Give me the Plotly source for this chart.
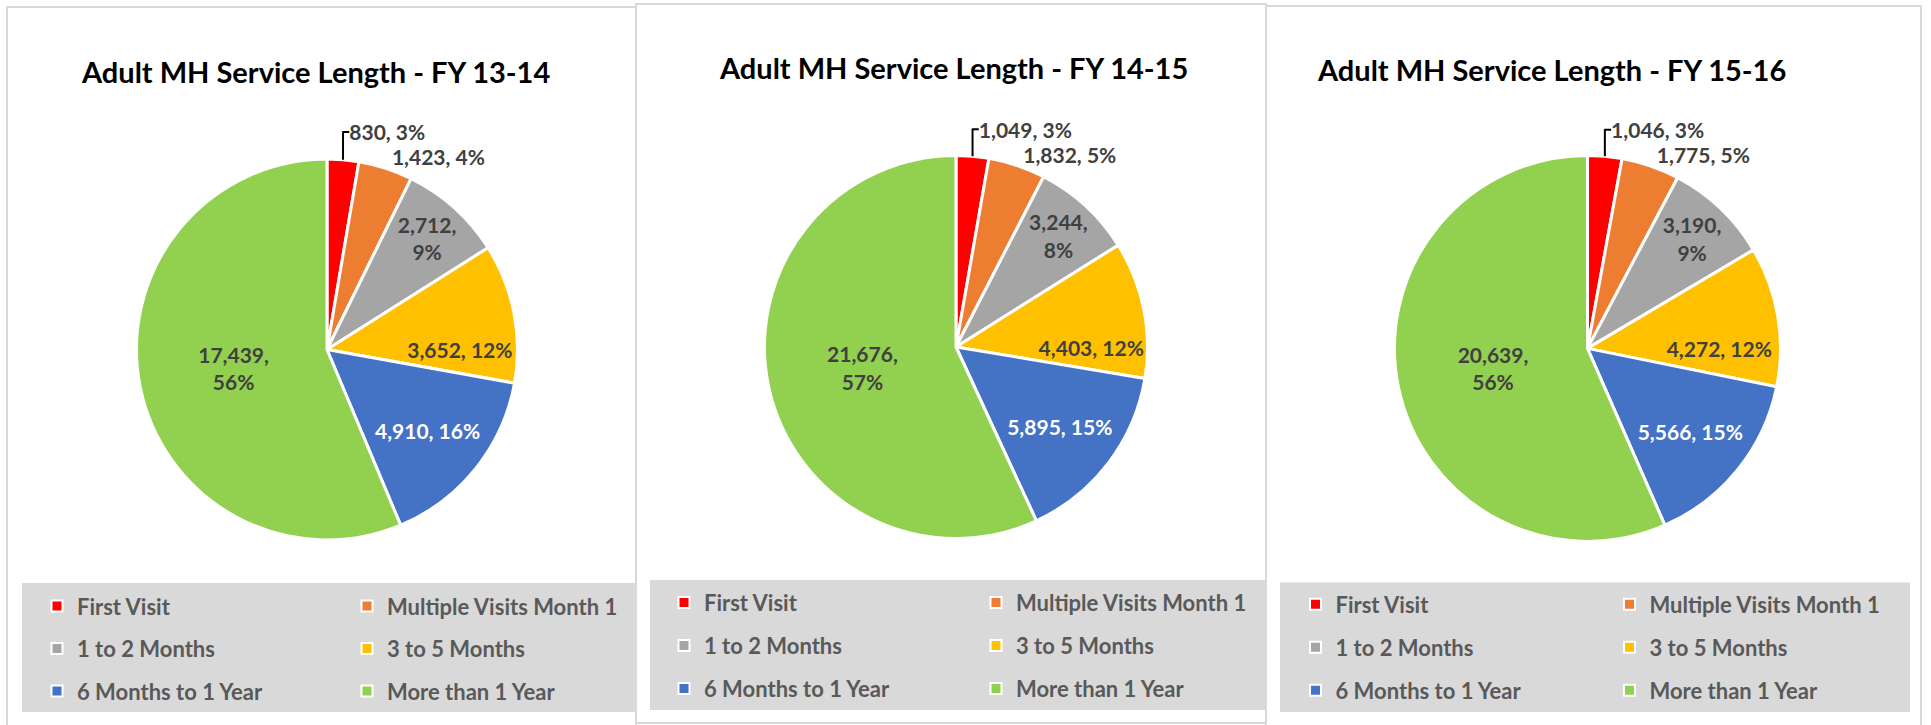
import plotly.graph_objects as go

# ---------------- data ----------------
categories = ["First Visit", "Multiple Visits Month 1", "1 to 2 Months",
              "3 to 5 Months", "6 Months to 1 Year", "More than 1 Year"]
colors = ["#FF0000", "#ED7D31", "#A5A5A5", "#FFC000", "#4472C4", "#92D050"]

titles = ["Adult MH Service Length - FY 13-14",
          "Adult MH Service Length - FY 14-15",
          "Adult MH Service Length - FY 15-16"]

values_fy1314 = [830, 1423, 2712, 3652, 4910, 17439]
values_fy1415 = [1049, 1832, 3244, 4403, 5895, 21676]
values_fy1516 = [1046, 1775, 3190, 4272, 5566, 20639]

# percent labels as printed on the chart
pct_fy1314 = ["3%", "4%", "9%", "12%", "16%", "56%"]
pct_fy1415 = ["3%", "5%", "8%", "12%", "15%", "57%"]
pct_fy1516 = ["3%", "5%", "9%", "12%", "15%", "56%"]

series = [(values_fy1314, pct_fy1314), (values_fy1415, pct_fy1415), (values_fy1516, pct_fy1516)]

# ---------------- styling / layout ----------------
W, H = 1931, 725
FONT = "Lato, 'Open Sans', Arial, sans-serif"


def px(x):
    return x / W


def py(y):
    return 1 - y / H


panels = [
    dict(center=(327, 349.5), r=190.5, title=(315, 71), frame=(7, 7, 636, 760),
         legbox=(22, 583, 636, 712), cols=(62, 372), row1=606, gap=42.5),
    dict(center=(956, 347), r=191.5, title=(953, 67), frame=(636, 4, 1266, 723),
         legbox=(650, 580, 1265.5, 710), cols=(689, 1001), row1=602.5, gap=43),
    dict(center=(1587.5, 348.4), r=193, title=(1551, 69), frame=(1266, 6, 1921, 760),
         legbox=(1280, 582.5, 1910, 712), cols=(1320.5, 1634.5), row1=604.3, gap=43),
]

text_positions = ["outside", "outside", "inside", "inside", "inside", "inside"]
text_templates = ["%{value:,}, %{customdata}", "%{value:,}, %{customdata}",
                  "%{value:,},<br>%{customdata}", "%{value:,}, %{customdata}",
                  "%{value:,}, %{customdata}", "%{value:,},<br>%{customdata}"]
label_colors = ["#404040", "#404040", "#404040", "#404040", "#FFFFFF", "#404040"]

fig = go.Figure()
shapes = []
annotations = []
legends = {}

LEG_FONT = 22
item_h = LEG_FONT * 1.3 + 3

for i, (p, (vals, pcts)) in enumerate(zip(panels, series)):
    cx, cy = p["center"]
    r = p["r"]
    fig.add_trace(go.Pie(
        values=vals, labels=categories, customdata=pcts,
        sort=False, direction="clockwise", rotation=0,
        marker=dict(colors=colors, line=dict(color="white", width=3)),
        texttemplate=text_templates, textposition=text_positions,
        insidetextorientation="horizontal",
        textfont=dict(family=FONT, size=21, color=label_colors, weight="bold"),
        showlegend=False, hoverinfo="label+value+percent",
        domain=dict(x=[px(cx - r), px(cx + r)], y=[py(cy + r), py(cy - r)]),
    ))

    # panel frame
    fx0, fy0, fx1, fy1 = p["frame"]
    shapes.append(dict(type="rect", xref="paper", yref="paper", layer="below",
                       x0=px(fx0), x1=px(fx1), y0=py(fy1), y1=py(fy0),
                       line=dict(color="#D9D9D9", width=2), fillcolor="white"))
    # legend background
    lx0, ly0, lx1, ly1 = p["legbox"]
    shapes.append(dict(type="rect", xref="paper", yref="paper", layer="below",
                       x0=px(lx0), x1=px(lx1), y0=py(ly1), y1=py(ly0),
                       line=dict(width=0), fillcolor="#D9D9D9"))
    # title
    tx, ty = p["title"]
    annotations.append(dict(text="<b>%s</b>" % titles[i], x=px(tx), y=py(ty),
                            xref="paper", yref="paper", xanchor="center", yanchor="middle",
                            showarrow=False, font=dict(family=FONT, size=29, color="#000000")))

    # legends: two columns, three rows
    for c in range(2):
        lid = "legend" if (i == 0 and c == 0) else "legend%d" % (i * 2 + c + 1)
        for row in range(3):
            k = row * 2 + c
            fig.add_trace(go.Scatter(
                x=[None], y=[None], mode="markers", name="<b>%s</b>" % categories[k],
                marker=dict(symbol="square", size=11, color=colors[k],
                            line=dict(color="white", width=2)),
                legend=lid, legendgroup="%s_%d" % (lid, k), showlegend=True,
                hoverinfo="skip"))
        legends[lid] = dict(
            x=px(p["cols"][c] - 25), y=py(p["row1"] - (5 + item_h / 2)),
            xanchor="left", yanchor="top", orientation="v",
            bgcolor="rgba(0,0,0,0)", borderwidth=0,
            font=dict(family=FONT, size=LEG_FONT, color="#595959"),
            traceorder="grouped", tracegroupgap=p["gap"] - item_h,
            itemclick=False, itemdoubleclick=False)

# draw the middle frame last so it sits over its neighbours
shapes = shapes[0:2] + shapes[4:6] + shapes[2:4]

fig.update_layout(
    width=W, height=H,
    margin=dict(l=0, r=0, t=0, b=0, autoexpand=False),
    paper_bgcolor="white", plot_bgcolor="rgba(0,0,0,0)",
    xaxis=dict(visible=False), yaxis=dict(visible=False),
    shapes=shapes, annotations=annotations,
    **legends,
)

fig.write_html("out.html", config={"displayModeBar": False},
               post_script="document.body.style.margin='0px';")
